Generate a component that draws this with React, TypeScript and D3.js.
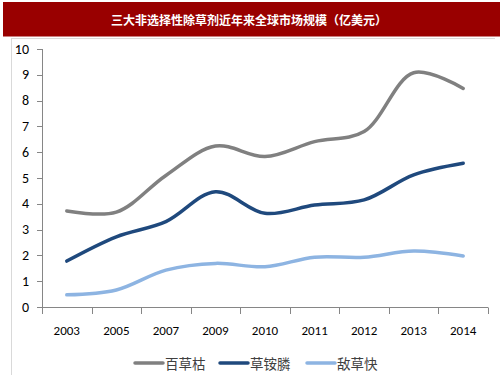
import React from "react";
import * as d3 from "d3";

const years = ["2003", "2005", "2007", "2009", "2010", "2011", "2012", "2013", "2014"];
const paraquat = [3.72, 3.68, 5.1, 6.24, 5.83, 6.41, 6.8, 9.08, 8.47];
const glufosinate = [1.78, 2.72, 3.31, 4.47, 3.63, 3.95, 4.15, 5.12, 5.57];
const diquat = [0.47, 0.66, 1.43, 1.69, 1.56, 1.93, 1.93, 2.17, 1.98];
const yTicks = [0, 1, 2, 3, 4, 5, 6, 7, 8, 9, 10];
const seriesNames = ["百草枯", "草铵膦", "敌草快"];
const colors = ["#808080", "#1f497d", "#8db4e2"];
const title = "三大非选择性除草剂近年来全球市场规模（亿美元）";

export default function App() {
  const W = 503, H = 378;
  const x = d3.scaleBand<string>().domain(years).range([42, 488]);
  const y = d3.scaleLinear().domain([0, 10]).range([307, 49]);
  const series = [paraquat, glufosinate, diquat];
  const line = d3
    .line<number>()
    .x((_, i) => (x(years[i]) as number) + x.bandwidth() / 2)
    .y((d) => y(d))
    .curve(d3.curveCatmullRom.alpha(0.5));
  const font = "Calibri, Carlito, 'Liberation Sans', Arial, sans-serif";
  const boundaries = [...years.map((d) => x(d) as number), x.range()[1]];
  const legendX = [135, 220, 307];
  return (
    <svg width={W} height={H} style={{ position: "absolute", left: 0, top: 0 }}>
      <rect x={0} y={0} width={W} height={H} fill="#fff" />
      <rect x={3} y={2} width={497} height={34.5} fill="#990000" />
      <text x={249} y={22} textAnchor="middle" fill="#fff" fontSize={12} fontWeight="bold"
        fontFamily="'Noto Sans CJK SC', sans-serif" dominantBaseline="middle">{title}</text>
      <line x1={11.5} y1={38} x2={11.5} y2={375} stroke="#d9d9d9" />
      <line x1={11.5} y1={38.5} x2={495} y2={38.5} stroke="#d9d9d9" />
      {/* y axis */}
      <line x1={42.5} y1={y(10)} x2={42.5} y2={y(0)} stroke="#868686" />
      {yTicks.map((t) => (
        <g key={t}>
          <line x1={37} x2={42.5} y1={Math.round(y(t)) + 0.5} y2={Math.round(y(t)) + 0.5} stroke="#868686" />
          <text x={29} y={y(t)} textAnchor="end" dominantBaseline="central" fontSize={14} fill="#000" fontFamily={font}>{t}</text>
        </g>
      ))}
      {/* x axis */}
      <line x1={42} x2={488} y1={307.5} y2={307.5} stroke="#868686" />
      {boundaries.map((b, i) => (
        <line key={i} x1={Math.round(b) + 0.5} x2={Math.round(b) + 0.5} y1={307.5} y2={314} stroke="#868686" />
      ))}
      {years.map((yr) => (
        <text key={yr} x={(x(yr) as number) + x.bandwidth() / 2} y={330} textAnchor="middle" dominantBaseline="central"
          fontSize={13} fill="#000" fontFamily={font}>{yr}</text>
      ))}
      {series.map((s, i) => (
        <path key={i} d={line(s) as string} fill="none" stroke={colors[i]} strokeWidth={3.5} strokeLinecap="round" />
      ))}
      {seriesNames.map((n, i) => (
        <g key={n}>
          <line x1={legendX[i]} x2={legendX[i] + 28} y1={363} y2={363} stroke={colors[i]} strokeWidth={3.5} strokeLinecap="round" />
          <text x={legendX[i] + 30} y={363} dominantBaseline="central" fontSize={13.5} fill="#404040"
            fontFamily="'Noto Sans CJK SC', sans-serif">{n}</text>
        </g>
      ))}
    </svg>
  );
}
